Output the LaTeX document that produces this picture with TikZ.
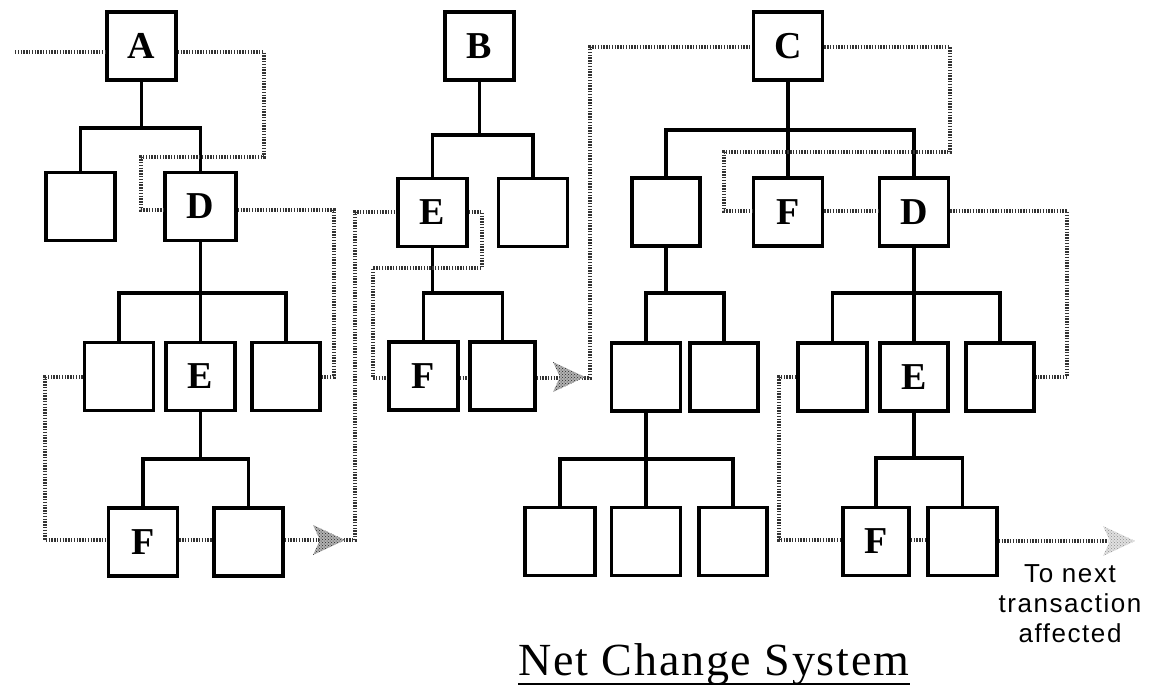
\documentclass[tikz,border=0pt]{standalone}
\usepackage{fontspec}
\setmainfont{Liberation Serif}
\newfontfamily\labelsans{Liberation Sans}[LetterSpace=6]
\newfontfamily\titleserif{Liberation Serif}[LetterSpace=4]
\usetikzlibrary{patterns}

\begin{document}
\begin{tikzpicture}[x=1pt, y=-1pt,
  box/.style={draw, line width=3.6pt, minimum width=69pt, minimum height=68pt,
              inner sep=0pt, font=\fontsize{38}{38}\selectfont\bfseries},
  link/.style={line width=3.2pt},
  flow/.style={draw=black!80, line width=3.8pt, dash pattern=on 1.4pt off 1.4pt},
  harrow/.pic={\fill[black!30] (-32,-15) -- (0,0) -- (-32,15) -- (-25,0) -- cycle;
               \fill[pattern=crosshatch dots, pattern color=black!85]
                 (-32,-15) -- (0,0) -- (-32,15) -- (-25,0) -- cycle;},
  fadearrow/.pic={\fill[black!12] (-32,-15) -- (0,0) -- (-32,15) -- (-25,0) -- cycle;
                  \fill[pattern=crosshatch dots, pattern color=black!45]
                 (-32,-15) -- (0,0) -- (-32,15) -- (-25,0) -- cycle;}
]
\useasboundingbox (0,0) rectangle (1156,691);

% ---------------- tree rooted at A ----------------
\node[box] (A)   at (141.5,46)  {A};
\node[box] (A1)  at (80.5,206.5) {};
\node[box, minimum width=71pt] (AD) at (200.5,206.5) {D};
\node[box] (AD1) at (119,376.5)  {};
\node[box] (AE)  at (200.5,376.5) {E};
\node[box, minimum width=68pt] (AD3) at (286,376.5) {};
\node[box] (AF)  at (143,542)    {F};
\node[box] (AE2) at (248.5,542)  {};

\draw[link] (A.south) -- (A.south |- 0,128);
\draw[link] (A1.north) -- (A1.north |- 0,128) -- (AD.north |- 0,128) -- (AD.north);
\draw[link] (AD.south) -- (AE.north);
\draw[link] (AD1.north) -- (AD1.north |- 0,293) -- (AD3.north |- 0,293) -- (AD3.north);
\draw[link] (AE.south) -- (AE.south |- 0,459);
\draw[link] (AF.north) -- (AF.north |- 0,459) -- (AE2.north |- 0,459) -- (AE2.north);

% ---------------- tree rooted at B ----------------
\node[box] (B)   at (479.5,46)   {B};
\node[box] (BE)  at (432.5,212.5) {E};
\node[box] (B2)  at (533,212.5)  {};
\node[box] (BF)  at (423.5,376)  {F};
\node[box, minimum width=65pt] (BE2) at (502.5,376) {};

\draw[link] (B.south) -- (B.south |- 0,135);
\draw[link] (BE.north) -- (BE.north |- 0,135) -- (B2.north |- 0,135) -- (B2.north);
\draw[link] (BE.south) -- (BE.south |- 0,293);
\draw[link] (BF.north) -- (BF.north |- 0,293) -- (BE2.north |- 0,293) -- (BE2.north);

% ---------------- tree rooted at C ----------------
\node[box] (C)    at (788,46)     {C};
\node[box, minimum width=68pt] (C1) at (666,212) {};
\node[box] (CF)   at (788,212)    {F};
\node[box] (CD)   at (914,212)    {D};
\node[box] (C11)  at (646,377)    {};
\node[box, minimum width=68pt] (C12) at (724,377) {};
\node[box, minimum width=70pt] (C111) at (560,541.5) {};
\node[box] (C112) at (646,541.5)  {};
\node[box, minimum width=68pt] (C113) at (733,541.5) {};
\node[box] (CD1)  at (832.5,377)  {};
\node[box, minimum width=68pt] (CE) at (914,377) {E};
\node[box, minimum width=68pt] (CD3) at (1000,377) {};
\node[box, minimum width=66pt] (CF2) at (876,541.5) {F};
\node[box] (CE2)  at (962.5,541.5) {};

\draw[link] (C.south) -- (CF.north);
\draw[link] (C1.north) -- (C1.north |- 0,130) -- (CD.north |- 0,130) -- (CD.north);
\draw[link] (C1.south) -- (C1.south |- 0,293);
\draw[link] (C11.north) -- (C11.north |- 0,293) -- (C12.north |- 0,293) -- (C12.north);
\draw[link] (C11.south) -- (C112.north);
\draw[link] (C111.north) -- (C111.north |- 0,459) -- (C113.north |- 0,459) -- (C113.north);
\draw[link] (CD.south) -- (CE.north);
\draw[link] (CD1.north) -- (CD1.north |- 0,293) -- (CD3.north |- 0,293) -- (CD3.north);
\draw[link] (CE.south) -- (CE.south |- 0,458);
\draw[link] (CF2.north) -- (CF2.north |- 0,458) -- (CE2.north |- 0,458) -- (CE2.north);

% ---------------- processing path ----------------
\coordinate (start) at (15,52);
\coordinate (onward) at (1108,541);

\draw[flow] (start) -- (A.west |- 0,52);
\draw[flow] (A.east |- 0,52) -- (264,52) -- (264,157) -- (141,157) -- (141,210) -- (AD.west |- 0,210);
\draw[flow] (AD.east |- 0,210) -- (334,210) -- (334,377) -- (AD3.east |- 0,377);
\draw[flow] (AD1.west |- 0,377) -- (45,377) -- (45,540) -- (AF.west |- 0,540);
\draw[flow] (AF.east |- 0,540) -- (AE2.west |- 0,540);
\draw[flow] (AE2.east |- 0,540) -- (355,540) -- (355,212) -- (BE.west |- 0,212);

\draw[flow] (BE.east |- 0,212) -- (482,212) -- (482,268) -- (373,268) -- (373,378) -- (BF.west |- 0,378);
\draw[flow] (BF.east |- 0,378) -- (BE2.west |- 0,378);
\draw[flow] (BE2.east |- 0,378) -- (590,378) -- (590,47) -- (C.west |- 0,47);

\draw[flow] (C.east |- 0,47) -- (950,47) -- (950,152) -- (724,152) -- (724,211) -- (CF.west |- 0,211);
\draw[flow] (CF.east |- 0,211) -- (CD.west |- 0,211);
\draw[flow] (CD.east |- 0,211) -- (1067,211) -- (1067,377) -- (CD3.east |- 0,377);
\draw[flow] (CD1.west |- 0,377) -- (779,377) -- (779,540) -- (CF2.west |- 0,540);
\draw[flow] (CF2.east |- 0,540) -- (CE2.west |- 0,540);
\draw[flow] (CE2.east |- 0,541) -- (onward);

\pic at (345,540) {harrow};
\pic at (585,377) {harrow};
\pic at (1135,541) {fadearrow};

% ---------------- texts ----------------
\node[anchor=north, inner sep=0pt, align=center,
      font=\labelsans\fontsize{26}{30}\selectfont] (note) at (1070,564)
      {To next\\transaction\\affected};

\node[anchor=base west, inner sep=0pt,
      font=\titleserif\fontsize{46}{46}\selectfont] (title) at (518,675)
      {Net Change System};
\draw[line width=2.2pt] ([yshift=-9pt]title.base west) -- ([yshift=-9pt]title.base east);
\end{tikzpicture}
\end{document}
